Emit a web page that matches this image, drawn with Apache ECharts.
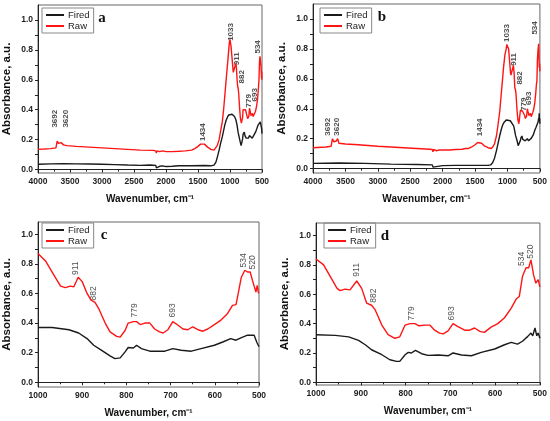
<!DOCTYPE html>
<html lang="en">
<head>
<meta charset="UTF-8">
<title>FTIR spectra</title>
<script src="https://cdn.jsdelivr.net/npm/echarts@6/dist/echarts.min.js"></script>
<style>
  html, body { margin: 0; padding: 0; background: #fff; }
  #main { width: 550px; height: 421px; }
</style>
</head>
<body>
<div id="main"></div>
<script>
// [wavenumber, absorbance]
// a / b : 4000-1000 part of the full scans, the 1000-500 part comes from c / d
var firedWideA = [[4000,0.035],[3800,0.038],[3600,0.04],[3400,0.038],[3200,0.037],[3000,0.035],[2800,0.033],[2600,0.03],[2400,0.028],[2250,0.03],[2160,0.028],[2150,0.012],[2140,0.025],[2100,0.022],[2050,0.025],[2000,0.02],[1980,0.012],[1970,0.022],[1900,0.022],[1800,0.025],[1600,0.025],[1400,0.027],[1300,0.025],[1250,0.03],[1220,0.05],[1200,0.08],[1170,0.13],[1150,0.17],[1120,0.22],[1100,0.26],[1080,0.3],[1060,0.33],[1040,0.35],[1020,0.365],[1010,0.37]];
var rawWideA = [[4000,0.135],[3900,0.137],[3800,0.14],[3720,0.145],[3700,0.19],[3692,0.2],[3680,0.175],[3660,0.175],[3640,0.18],[3620,0.19],[3600,0.165],[3550,0.16],[3400,0.155],[3200,0.15],[3000,0.145],[2800,0.14],[2600,0.135],[2400,0.13],[2200,0.128],[2160,0.125],[2150,0.11],[2140,0.125],[2100,0.12],[2050,0.125],[2000,0.12],[1980,0.11],[1970,0.122],[1900,0.12],[1800,0.122],[1700,0.125],[1600,0.13],[1550,0.14],[1500,0.155],[1460,0.17],[1434,0.18],[1400,0.17],[1350,0.15],[1300,0.135],[1250,0.13],[1220,0.14],[1200,0.16],[1170,0.2],[1150,0.25],[1120,0.32],[1100,0.4],[1080,0.5],[1060,0.6],[1040,0.7],[1033,0.73],[1020,0.8],[1010,0.85]];
var firedWideB = [[4000,0.035],[3600,0.038],[3200,0.035],[2800,0.03],[2400,0.028],[2160,0.025],[2150,0.01],[2140,0.022],[2000,0.02],[1980,0.012],[1970,0.02],[1800,0.022],[1600,0.022],[1400,0.022],[1300,0.022],[1260,0.025],[1230,0.04],[1200,0.07],[1170,0.12],[1150,0.16],[1120,0.22],[1100,0.255],[1080,0.285],[1060,0.305],[1040,0.318],[1020,0.325],[1010,0.326]];
var rawWideB = [[4000,0.14],[3800,0.145],[3720,0.15],[3700,0.2],[3692,0.205],[3680,0.18],[3660,0.18],[3640,0.185],[3620,0.2],[3600,0.17],[3500,0.165],[3300,0.16],[3000,0.15],[2800,0.145],[2600,0.14],[2400,0.135],[2200,0.13],[2160,0.128],[2150,0.112],[2140,0.128],[2100,0.12],[2050,0.125],[2000,0.125],[1980,0.113],[1970,0.125],[1900,0.125],[1800,0.128],[1700,0.13],[1650,0.135],[1600,0.135],[1550,0.145],[1500,0.16],[1460,0.175],[1434,0.185],[1400,0.17],[1350,0.15],[1300,0.14],[1250,0.135],[1220,0.15],[1200,0.165],[1170,0.22],[1150,0.28],[1120,0.38],[1100,0.48],[1080,0.58],[1060,0.68],[1040,0.76],[1033,0.77],[1020,0.8],[1010,0.83]];

var firedC = [[1000,0.37],[968,0.37],[930,0.355],[908,0.333],[889,0.295],[874,0.25],[856,0.215],[837,0.178],[826,0.16],[814,0.165],[803,0.205],[796,0.235],[784,0.232],[777,0.25],[766,0.227],[747,0.21],[713,0.21],[695,0.227],[676,0.216],[653,0.21],[631,0.227],[601,0.25],[582,0.272],[564,0.295],[552,0.284],[541,0.3],[526,0.318],[511,0.318],[505,0.27],[500,0.24]];
var rawC = [[1000,0.87],[983,0.82],[968,0.745],[949,0.65],[938,0.64],[927,0.65],[919,0.645],[909,0.71],[900,0.68],[889,0.6],[880,0.555],[871,0.54],[863,0.5],[848,0.4],[837,0.34],[822,0.31],[814,0.305],[803,0.35],[796,0.4],[784,0.41],[777,0.41],[769,0.39],[758,0.4],[747,0.4],[736,0.36],[725,0.34],[717,0.333],[706,0.355],[695,0.41],[683,0.385],[672,0.36],[661,0.355],[650,0.375],[638,0.355],[627,0.345],[616,0.36],[601,0.39],[586,0.42],[571,0.465],[560,0.52],[552,0.525],[547,0.6],[540,0.71],[532,0.757],[526,0.745],[520,0.745],[515,0.69],[511,0.685],[507,0.61],[504,0.655],[501,0.6]];
var firedD = [[1000,0.324],[957,0.32],[927,0.31],[905,0.286],[890,0.256],[876,0.222],[853,0.188],[835,0.154],[820,0.143],[813,0.143],[801,0.188],[794,0.204],[787,0.2],[778,0.218],[764,0.195],[750,0.184],[727,0.186],[705,0.181],[694,0.2],[675,0.186],[653,0.181],[631,0.204],[601,0.227],[579,0.256],[564,0.272],[550,0.26],[539,0.28],[527,0.313],[520,0.336],[516,0.317],[511,0.37],[507,0.317],[504,0.336],[500,0.3]];
var rawD = [[1000,0.84],[983,0.8],[968,0.72],[953,0.64],[946,0.625],[935,0.635],[924,0.63],[909,0.69],[898,0.64],[887,0.54],[876,0.525],[868,0.495],[853,0.39],[839,0.325],[824,0.3],[813,0.31],[801,0.39],[790,0.4],[779,0.4],[770,0.385],[757,0.39],[746,0.39],[735,0.355],[724,0.335],[716,0.33],[705,0.35],[694,0.4],[683,0.38],[668,0.355],[657,0.355],[646,0.37],[634,0.347],[624,0.34],[609,0.376],[594,0.4],[579,0.44],[564,0.505],[553,0.567],[546,0.585],[539,0.72],[531,0.78],[525,0.78],[520,0.834],[514,0.73],[509,0.675],[504,0.7],[500,0.65]];

// peak labels: [x, y of label centre, text]
var peaksA = [[3736,0.34,'3692'],[3570,0.34,'3620'],[1431,0.25,'1434'],[985,0.92,'1033'],[887,0.74,'911'],[814,0.62,'882'],[700,0.46,'779'],[607,0.5,'693'],[566,0.82,'534']];
var peaksB = [[3773,0.28,'3692'],[3628,0.28,'3620'],[1430,0.276,'1434'],[1017,0.906,'1033'],[903,0.73,'911'],[815,0.606,'882'],[743,0.43,'779'],[670,0.47,'693'],[577,0.94,'534']];
var peaksC = [[914,0.77,'911'],[873,0.6,'882'],[782,0.486,'779'],[695,0.486,'693'],[535,0.824,'534'],[514,0.81,'520']];
var peaksD = [[910,0.766,'911'],[872,0.59,'882'],[787,0.47,'779'],[696,0.47,'693'],[541,0.84,'534'],[520,0.89,'520']];

var yTicks = [0, 0.2, 0.4, 0.6, 0.8, 1.0];
var yMinorTicks = [0, 0.1, 0.2, 0.3, 0.4, 0.5, 0.6, 0.7, 0.8, 0.9, 1.0];
var panelLetters = ['a', 'b', 'c', 'd'];

var firedColor = '#1a1a1a';
var rawColor = '#ff1414';
var font = '"Liberation Sans", Arial, sans-serif';

var panels = [
  { fired: firedWideA.concat(firedC), raw: rawWideA.concat(rawC), peaks: peaksA, xMax: 4000, step: 500,
    grid: { left: 36, top: 5, width: 226, height: 168 }, yMin: -0.023, yMax: 1.1,
    legend: { left: 42, top: 8 }, letter: [102, 18], boldPeaks: true },
  { fired: firedWideB.concat(firedD), raw: rawWideB.concat(rawD), peaks: peaksB, xMax: 4000, step: 500,
    grid: { left: 313, top: 4, width: 227, height: 169 }, yMin: -0.029, yMax: 1.1,
    legend: { left: 320, top: 8 }, letter: [382, 17], boldPeaks: true },
  { fired: firedC, raw: rawC, peaks: peaksC, xMax: 1000, step: 100,
    grid: { left: 36, top: 222, width: 223, height: 165 }, yMin: -0.032, yMax: 1.083,
    legend: { left: 42, top: 223 }, letter: [104, 235], boldPeaks: false },
  { fired: firedD, raw: rawD, peaks: peaksD, xMax: 1000, step: 100,
    grid: { left: 316, top: 223, width: 225, height: 162 }, yMin: -0.018, yMax: 1.085,
    legend: { left: 324, top: 223 }, letter: [385, 236], boldPeaks: false }
];

var myChart = echarts.init(document.getElementById('main'));

var option = {
  animation: false,
  backgroundColor: '#fff',
  grid: [], xAxis: [], yAxis: [], legend: [], series: [], graphic: []
};

panels.forEach(function (p, i) {
  option.grid.push(Object.assign({ show: true, borderColor: '#666', borderWidth: 1 }, p.grid));

  option.xAxis.push({
    type: 'value', gridIndex: i, inverse: true,
    min: 500, max: p.xMax, interval: p.step,
    name: 'Wavenumber, cm\u207B\u00B9', nameLocation: 'middle', nameGap: 21,
    nameTextStyle: { fontFamily: font, fontWeight: 'bold', fontSize: 10, color: '#111' },
    axisLine: { lineStyle: { color: '#222', width: 1 } },
    axisTick: { length: 3, lineStyle: { color: '#222' } },
    minorTick: { show: true, splitNumber: 2, length: 2, lineStyle: { color: '#222' } },
    axisLabel: {
      fontFamily: font, fontWeight: 'bold', fontSize: 8.5, color: '#222', margin: 4,
      formatter: function (v) { return String(v); }
    },
    splitLine: { show: false }
  });

  option.yAxis.push({
    type: 'value', gridIndex: i, min: p.yMin, max: p.yMax,
    name: 'Absorbance, a.u.', nameLocation: 'middle', nameGap: 25,
    nameTextStyle: { fontFamily: font, fontWeight: 'bold', fontSize: 11.5, color: '#111' },
    axisLine: { show: true, lineStyle: { color: '#222', width: 1 } },
    axisTick: { show: true, customValues: yMinorTicks, length: 3, lineStyle: { color: '#222' } },
    axisLabel: {
      customValues: yTicks, fontFamily: font, fontWeight: 'bold', fontSize: 8.5, color: '#222', margin: 5,
      formatter: function (v) { return v.toFixed(1); }
    },
    splitLine: { show: false }
  });

  option.legend.push({
    data: ['Fired', 'Raw'], orient: 'vertical', left: p.legend.left, top: p.legend.top,
    icon: 'rect', itemWidth: 18, itemHeight: 2, itemGap: 1,
    padding: [2, 4, 2, 4], borderColor: '#888', borderWidth: 1, selectedMode: false,
    textStyle: { fontFamily: font, fontSize: 9.5, color: '#222', padding: [0, 0, 0, -1] }
  });

  option.series.push({
    name: 'Fired', type: 'line', xAxisIndex: i, yAxisIndex: i, data: p.fired,
    symbol: 'none', lineStyle: { color: firedColor, width: 1.4 }, itemStyle: { color: firedColor }
  });
  option.series.push({
    name: 'Raw', type: 'line', xAxisIndex: i, yAxisIndex: i, data: p.raw,
    symbol: 'none', lineStyle: { color: rawColor, width: 1.4 }, itemStyle: { color: rawColor }
  });
  option.series.push({
    name: 'peaks', type: 'scatter', xAxisIndex: i, yAxisIndex: i, data: p.peaks,
    symbolSize: 1, itemStyle: { color: 'rgba(0,0,0,0)' }, silent: true,
    label: {
      show: true, position: 'inside', rotate: 90, color: '#222',
      fontFamily: font, fontSize: p.boldPeaks ? 8 : 8.5, fontWeight: p.boldPeaks ? 'bold' : 'normal',
      formatter: function (q) { return q.data[2]; }
    }
  });

  option.graphic.push({
    type: 'text', x: p.letter[0], y: p.letter[1],
    style: {
      text: panelLetters[i], fill: '#111', align: 'center', verticalAlign: 'middle',
      font: 'bold 15px "Liberation Serif", "DejaVu Serif", serif'
    }
  });
});

myChart.setOption(option);
</script>
</body>
</html>
